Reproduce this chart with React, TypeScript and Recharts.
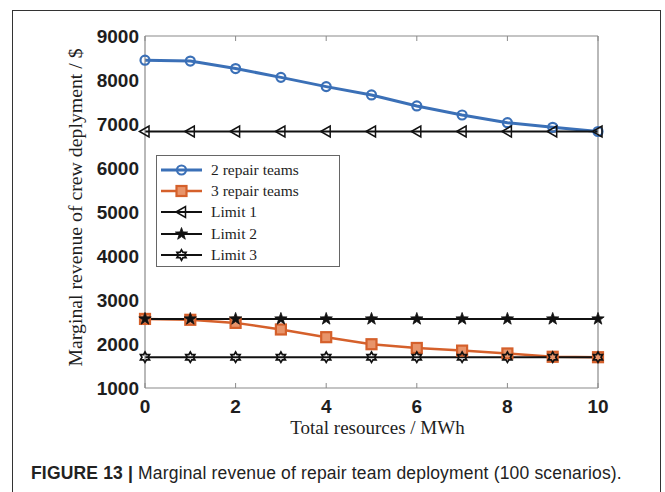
import React from 'react';
import { LineChart, Line, XAxis, YAxis, Legend } from 'recharts';

// total resources (MWh) on the x axis
const resources = [0, 1, 2, 3, 4, 5, 6, 7, 8, 9, 10];

// marginal revenue ($) per scenario
const twoTeams = [8450, 8430, 8260, 8060, 7850, 7660, 7410, 7205, 7030, 6925, 6830];
const threeTeams = [2570, 2550, 2480, 2330, 2155, 1995, 1910, 1850, 1785, 1710, 1700];
const limit1 = [6830, 6830, 6830, 6830, 6830, 6830, 6830, 6830, 6830, 6830, 6830];
const limit2 = [2570, 2570, 2570, 2570, 2570, 2570, 2570, 2570, 2570, 2570, 2570];
const limit3 = [1700, 1700, 1700, 1700, 1700, 1700, 1700, 1700, 1700, 1700, 1700];

const xTicks = [0, 2, 4, 6, 8, 10];
const yTicks = [1000, 2000, 3000, 4000, 5000, 6000, 7000, 8000, 9000];

const BLUE = '#3b70b7';
const ORANGE = '#d5602b';
const BLACK = '#111111';
const FRAME = '#8a8a8a';
const TEXT = '#1e1e1e';

type MarkerKind = 'circle' | 'square' | 'triangle' | 'star' | 'hexagram';

const series = [
  { key: 'two', name: '2 repair teams', color: BLUE, width: 3, marker: 'circle' as MarkerKind },
  { key: 'three', name: '3 repair teams', color: ORANGE, width: 2.5, marker: 'square' as MarkerKind },
  { key: 'l1', name: 'Limit 1', color: BLACK, width: 2, marker: 'triangle' as MarkerKind },
  { key: 'l2', name: 'Limit 2', color: BLACK, width: 2, marker: 'star' as MarkerKind },
  { key: 'l3', name: 'Limit 3', color: BLACK, width: 2, marker: 'hexagram' as MarkerKind },
];

const data = resources.map((r, i) => ({
  r,
  two: twoTeams[i],
  three: threeTeams[i],
  l1: limit1[i],
  l2: limit2[i],
  l3: limit3[i],
}));

const starPoints = (x: number, y: number, n: number, outer: number, inner: number) => {
  const pts: string[] = [];
  for (let k = 0; k < n * 2; k++) {
    const rad = k % 2 === 0 ? outer : inner;
    const a = -Math.PI / 2 + (k * Math.PI) / n;
    pts.push(`${x + rad * Math.cos(a)},${y + rad * Math.sin(a)}`);
  }
  return pts.join(' ');
};

const Marker = ({ kind, x, y, color }: { kind: MarkerKind; x: number; y: number; color: string }) => {
  switch (kind) {
    case 'circle':
      return <circle cx={x} cy={y} r={4.5} fill="none" stroke={color} strokeWidth={2.2} />;
    case 'square':
      return <rect x={x - 5} y={y - 5} width={10} height={10} fill="#e8946a" stroke={color} strokeWidth={2.2} />;
    case 'triangle':
      return (
        <polygon
          points={`${x - 5.5},${y} ${x + 4},${y - 5.5} ${x + 4},${y + 5.5}`}
          fill="none"
          stroke={color}
          strokeWidth={1.5}
        />
      );
    case 'star':
      return <polygon points={starPoints(x, y, 5, 6.5, 2.6)} fill={color} stroke={color} strokeWidth={0.8} />;
    default:
      return <polygon points={starPoints(x, y, 6, 5.2, 3)} fill="none" stroke={color} strokeWidth={1.7} />;
  }
};

const dotFor = (kind: MarkerKind, color: string, id: string) => (p: any) =>
  <Marker key={`${id}-${p.index}`} kind={kind} x={p.cx} y={p.cy} color={color} />;

const LegendBox = () => (
  <div
    style={{
      width: 184,
      height: 112,
      boxSizing: 'border-box',
      border: '1px solid #666',
      background: '#fff',
      paddingTop: 3,
    }}
  >
    {series.map((s) => (
      <div key={s.key} style={{ display: 'flex', alignItems: 'center', height: 21.3 }}>
        <svg width={52} height={16} style={{ display: 'block' }}>
          <line x1={4} x2={45} y1={8} y2={8} stroke={s.color} strokeWidth={s.width} />
          <Marker kind={s.marker} x={24.5} y={8} color={s.color} />
        </svg>
        <span
          style={{
            marginLeft: 2,
            fontFamily: '"Liberation Serif", "Times New Roman", serif',
            fontSize: 15.5,
            color: TEXT,
            lineHeight: '16px',
          }}
        >
          {s.name}
        </span>
      </div>
    ))}
  </div>
);

const tickStyle = {
  fontFamily: '"Liberation Sans", Arial, sans-serif',
  fontSize: 19,
  fontWeight: 700,
  fill: TEXT,
};

const serif = '"Liberation Serif", "Times New Roman", serif';

export default function App() {
  return (
    <div
      style={{
        position: 'absolute',
        left: 0,
        top: 0,
        width: 665,
        height: 492,
        overflow: 'hidden',
        background: '#fff',
      }}
    >
      <div
        style={{
          position: 'absolute',
          left: 12,
          top: 10,
          width: 649,
          height: 520,
          border: '1.5px solid #333',
          boxSizing: 'border-box',
        }}
      />
      <div style={{ position: 'absolute', left: 0, top: 0 }}>
        <LineChart width={665} height={492} data={data} margin={{ top: 36, right: 67, bottom: 74, left: 85 }}>
          <XAxis
            xAxisId="main"
            dataKey="r"
            type="number"
            domain={[0, 10]}
            ticks={xTicks}
            interval={0}
            height={30}
            tickLine={false}
            tickSize={5}
            tickMargin={7}
            axisLine={{ stroke: FRAME, strokeWidth: 1.2 }}
            tick={tickStyle}
            label={{
              content: (p: any) => {
                const vb = p.viewBox || { x: 145, width: 453 };
                return (
                  <text x={vb.x + vb.width / 2 + 6} y={434} textAnchor="middle" fontFamily={serif} fontSize={19} fill={TEXT}>
                    Total resources / MWh
                  </text>
                );
              },
            }}
          />
          <XAxis
            xAxisId="bottomTicks"
            type="number"
            domain={[0, 10]}
            ticks={xTicks}
            interval={0}
            orientation="bottom"
            mirror
            tickFormatter={() => ''}
            axisLine={false}
            tickLine={{ stroke: FRAME }}
            tickSize={5}
          />
          <XAxis
            xAxisId="top"
            type="number"
            domain={[0, 10]}
            ticks={xTicks}
            interval={0}
            orientation="top"
            mirror
            tickFormatter={() => ''}
            axisLine={{ stroke: FRAME, strokeWidth: 1.2 }}
            tickLine={{ stroke: FRAME }}
            tickSize={5}
          />
          <YAxis
            yAxisId="main"
            type="number"
            domain={[1000, 9000]}
            ticks={yTicks}
            interval={0}
            width={60}
            tickLine={false}
            tickSize={0}
            tickMargin={6}
            axisLine={{ stroke: FRAME, strokeWidth: 1.2 }}
            tick={tickStyle}
            label={{
              content: (p: any) => {
                const vb = p.viewBox || { y: 36, height: 352 };
                const cy = vb.y + vb.height / 2 - 4.5;
                return (
                  <text
                    x={75}
                    y={cy}
                    transform={`rotate(-90, 75, ${cy})`}
                    textAnchor="middle"
                    dominantBaseline="central"
                    fontFamily={serif}
                    fontSize={19.8}
                    fill={TEXT}
                  >
                    Marginal revenue of crew deplyment / $
                  </text>
                );
              },
            }}
          />
          <YAxis
            yAxisId="leftTicks"
            type="number"
            domain={[1000, 9000]}
            ticks={yTicks}
            interval={0}
            orientation="left"
            mirror
            tickFormatter={() => ''}
            axisLine={false}
            tickLine={{ stroke: FRAME }}
            tickSize={5}
          />
          <YAxis
            yAxisId="right"
            type="number"
            domain={[1000, 9000]}
            ticks={yTicks}
            interval={0}
            orientation="right"
            mirror
            tickFormatter={() => ''}
            axisLine={{ stroke: FRAME, strokeWidth: 1.2 }}
            tickLine={{ stroke: FRAME }}
            tickSize={5}
          />
          {series.map((s) => (
            <Line
              key={s.key}
              xAxisId="main"
              yAxisId="main"
              dataKey={s.key}
              name={s.name}
              type="linear"
              stroke={s.color}
              strokeWidth={s.width}
              dot={dotFor(s.marker, s.color, s.key)}
              activeDot={false}
              isAnimationActive={false}
            />
          ))}
          <Legend
            layout="vertical"
            align="center"
            verticalAlign="middle"
            wrapperStyle={{ left: 156, top: 155, width: 184, height: 112 }}
            content={() => <LegendBox />}
          />
        </LineChart>
      </div>
      <div
        style={{
          position: 'absolute',
          left: 31,
          top: 463,
          fontFamily: '"Liberation Sans", Arial, sans-serif',
          fontSize: 17.5,
          letterSpacing: 0.17,
          lineHeight: '20px',
          color: '#222',
          whiteSpace: 'nowrap',
        }}
      >
        <span style={{ fontWeight: 700 }}>FIGURE 13 |</span> Marginal revenue of repair team deployment (100 scenarios).
      </div>
    </div>
  );
}
